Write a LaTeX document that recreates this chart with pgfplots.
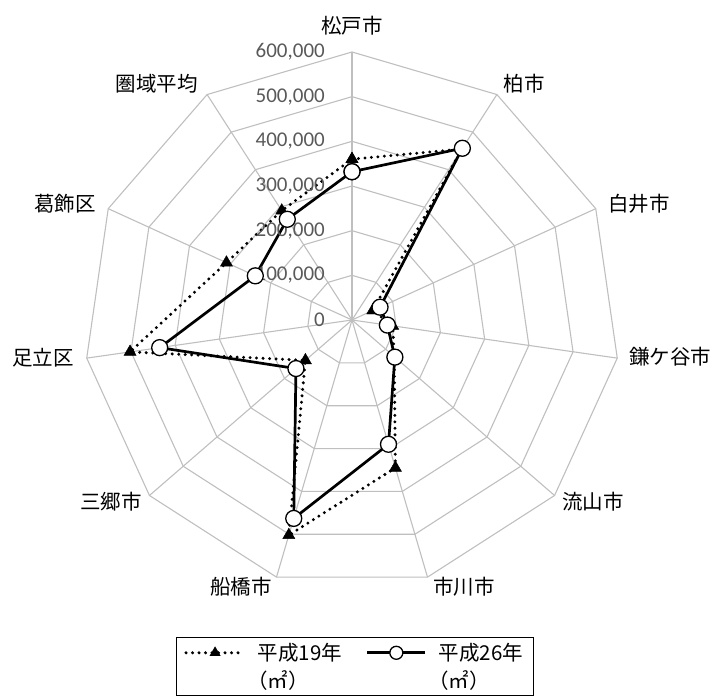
\documentclass[border=0pt]{standalone}
\usepackage{pgfplots}
\pgfplotsset{compat=1.18}
\usepackage{fontspec}
\setmainfont{Carlito}
\newfontfamily\jp{Noto Sans CJK JP}
\definecolor{gridc}{HTML}{BFBFBF}
\definecolor{tickc}{HTML}{595959}
\begin{document}
\begin{tikzpicture}
\useasboundingbox (0,0) rectangle (713pt,700pt);
\begin{axis}[
  at={(352pt,380pt)}, anchor=origin,
  scale only axis, width=536pt, height=536pt,
  xmin=-600000,xmax=600000,ymin=-600000,ymax=600000,
  hide axis, clip=false,
  legend columns=2,
  legend cell align=left,
  legend style={at={(0.505,-0.0914)}, anchor=north, draw=black, line width=0.8pt,
    font=\jp\fontsize{20.5}{24}\selectfont,
    inner xsep=8pt, inner ysep=4pt, row sep=4pt,
    /tikz/every odd column/.append style={column sep=10pt},
    /tikz/every even column/.append style={column sep=22pt}},
]
% polygonal grid rings
\pgfplotsinvokeforeach{100000,200000,300000,400000,500000,600000}{
  \addplot[gridc, line width=1.1pt, forget plot, data cs=polar] coordinates {
    (90,#1)(57.2727,#1)(24.5455,#1)(-8.1818,#1)(-40.9091,#1)(-73.6364,#1)
    (-106.3636,#1)(-139.0909,#1)(-171.8182,#1)(-204.5455,#1)(-237.2727,#1)(90,#1)};
}
% spokes
\pgfplotsinvokeforeach{90,57.2727,24.5455,-8.1818,-40.9091,-73.6364,-106.3636,-139.0909,-171.8182,-204.5455,-237.2727}{
  \addplot[gridc, line width=1.1pt, forget plot, data cs=polar] coordinates {(#1,0)(#1,600000)};
}
% H19
\addplot[black, line width=3.3pt, line cap=round, dash pattern=on 0pt off 6.5pt,
  mark=triangle*, mark size=7pt, mark options={solid, fill=black, line width=0.4pt},
  data cs=polar,
  legend image code/.code={\draw[mark repeat=2,mark phase=2,mark size=6pt] plot coordinates {(0pt,0pt)(29pt,0pt)(58pt,0pt)};}]
coordinates {
 (90,360000)(57.2727,455000)(24.5455,51000)(-8.1818,92000)(-40.9091,125000)
 (-73.6364,345000)(-106.3636,502000)(-139.0909,138000)(-171.8182,502000)
 (-204.5455,309000)(-237.2727,291000)(90,360000)};
\addlegendentry{平成19年}
% H26
\addplot[black, line width=2.7pt,
  mark=*, mark size=8pt, mark options={fill=white, line width=1.3pt},
  data cs=polar,
  legend image code/.code={\draw[mark repeat=2,mark phase=2,mark size=6.5pt] plot coordinates {(0pt,0pt)(29pt,0pt)(58pt,0pt)};}]
coordinates {
 (90,332000)(57.2727,457000)(24.5455,69000)(-8.1818,80000)(-40.9091,127000)
 (-73.6364,290000)(-106.3636,463000)(-139.0909,166000)(-171.8182,435000)
 (-204.5455,238000)(-237.2727,268000)(90,332000)};
\addlegendentry{平成26年}
\addlegendimage{empty legend}
\addlegendentry{\hspace{-0.5em}（㎡）}
\addlegendimage{empty legend}
\addlegendentry{\hspace{-0.5em}（㎡）}
% tick labels
\begin{scope}[every node/.style={anchor=east, text=tickc, font=\fontsize{21}{24}\selectfont, inner sep=0pt}]
\node at (axis cs:-60448,0) {0};
\node at (axis cs:-60448,100000) {100,000};
\node at (axis cs:-60448,200000) {200,000};
\node at (axis cs:-60448,300000) {300,000};
\node at (axis cs:-60448,400000) {400,000};
\node at (axis cs:-60448,500000) {500,000};
\node at (axis cs:-60448,600000) {600,000};
\end{scope}
% category labels
\begin{scope}[every node/.style={anchor=center, font=\jp\fontsize{20.5}{24}\selectfont, inner sep=0pt}]
\node at (axis cs:0,658200) {松戸市};
\node at (axis cs:385074,528357) {柏市};
\node at (axis cs:642536,260820) {白井市};
\node at (axis cs:711938,-82836) {鎌ケ谷市};
\node at (axis cs:539551,-407462) {流山市};
\node at (axis cs:250746,-597760) {市川市};
\node at (axis cs:-248507,-597760) {船橋市};
\node at (axis cs:-539551,-407462) {三郷市};
\node at (axis cs:-691789,-85074) {足立区};
\node at (axis cs:-642536,260820) {葛飾区};
\node at (axis cs:-436566,528357) {圏域平均};
\end{scope}
\end{axis}
\end{tikzpicture}
\end{document}
